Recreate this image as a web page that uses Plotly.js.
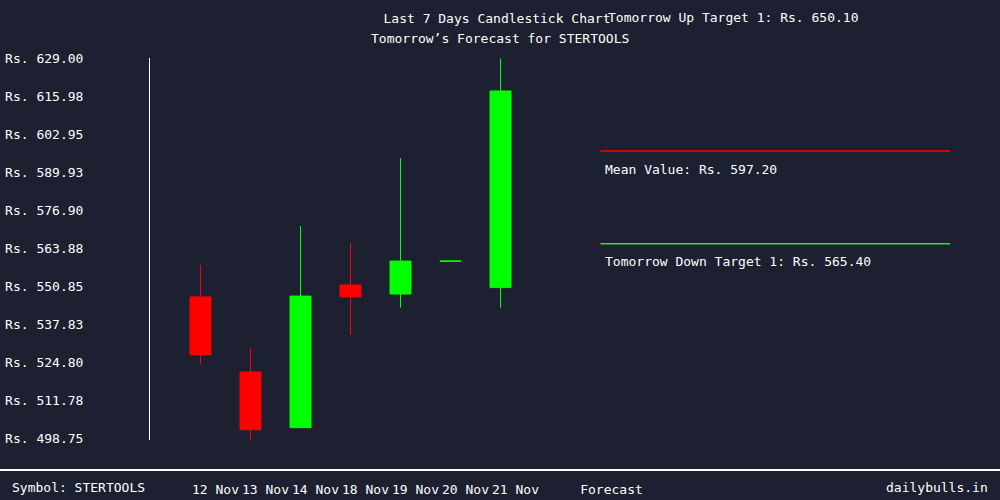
<!DOCTYPE html>
<html>
<head>
<meta charset="utf-8">
<script src="https://cdn.plot.ly/plotly-3.0.1.min.js"></script>
<style>html,body{margin:0;padding:0;background:#1c2030;}#chart{width:1000px;height:500px;}</style>
</head>
<body>
<div id="chart"></div>
<script>
// ---- data ----
const dates = ["12 Nov", "13 Nov", "14 Nov", "18 Nov", "19 Nov", "20 Nov", "21 Nov"];
const openVals  = [547.2, 521.5, 502.4, 551.3, 548.2, 559.4, 550.4];
const highVals  = [558.2, 529.7, 571.5, 565.7, 594.8, 559.5, 629.0];
const lowVals   = [524.3, 497.8, 502.4, 534.2, 543.5, 559.4, 543.5];
const closeVals = [527.4, 501.7, 547.5, 547.2, 559.5, 559.5, 617.8];
const yTickVals = [498.75, 511.775, 524.8, 537.825, 550.85, 563.875, 576.9, 589.925, 602.95, 615.975, 629.0];
const yTickLabels = ["Rs. 498.75", "Rs. 511.78", "Rs. 524.80", "Rs. 537.83", "Rs. 550.85", "Rs. 563.88", "Rs. 576.90", "Rs. 589.93", "Rs. 602.95", "Rs. 615.98", "Rs. 629.00"];
const upTarget = 650.10;
const meanValue = 597.20;
const downTarget = 565.40;
const symbol = "STERTOOLS";

// ---- chart ----
const FONT = "DejaVu Sans Mono, monospace";
const idx = dates.map((d, i) => i);
const forecastPos = 8.22;

const trace = {
  type: "candlestick",
  x: idx,
  open: openVals, high: highVals, low: lowVals, close: closeVals,
  increasing: {line: {color: "#00ff00", width: 1}, fillcolor: "#00ff00"},
  decreasing: {line: {color: "#ff0000", width: 1}, fillcolor: "#ff0000"},
  hoverinfo: "skip",
  showlegend: false
};

const layout = {
  width: 1000, height: 500,
  margin: {l: 150, r: 50, t: 58, b: 60},
  paper_bgcolor: "#1c2030",
  plot_bgcolor: "#1c2030",
  font: {family: FONT, size: 13, color: "#ffffff"},
  boxgap: 0.4,
  title: {
    text: "Last 7 Days Candlestick Chart",
    x: 0.497, xanchor: "center", xref: "container",
    y: 1 - 18 / 500, yanchor: "middle", yref: "container",
    font: {family: FONT, size: 13, color: "#ffffff"}
  },
  xaxis: {
    range: [-1.01, 14.99],
    showgrid: false, zeroline: false, showline: false,
    rangeslider: {visible: false},
    tickmode: "array",
    tickvals: idx.map(i => i + 0.3).concat([forecastPos]),
    ticktext: dates.concat(["Forecast"]),
    ticks: "",
    ticklabelstandoff: 40,
    tickfont: {family: FONT, size: 13, color: "#ffffff"},
    fixedrange: true
  },
  yaxis: {
    range: [498.17, 629.1],
    showgrid: false, zeroline: false,
    showline: true, linecolor: "#ffffff", linewidth: 1,
    tickmode: "array",
    tickvals: yTickVals,
    ticktext: yTickLabels,
    ticks: "",
    ticklabelstandoff: 63,
    tickfont: {family: FONT, size: 13, color: "#ffffff"},
    fixedrange: true
  },
  shapes: [
    {type: "line", xref: "x", yref: "y", x0: 8, x1: 15, y0: upTarget, y1: upTarget, line: {color: "#00ff00", width: 1.5}},
    {type: "line", xref: "x", yref: "y", x0: 8, x1: 15, y0: meanValue, y1: meanValue, line: {color: "#ff0000", width: 1.5}},
    {type: "line", xref: "x", yref: "y", x0: 8, x1: 15, y0: downTarget, y1: downTarget, line: {color: "#33dd33", width: 1.5}},
    {type: "line", xref: "paper", yref: "paper", x0: -0.1875, x1: 1.0625, y0: -30 / 382, y1: -30 / 382, line: {color: "#ffffff", width: 2}}
  ],
  annotations: [
    {text: "Tomorrow’s Forecast for " + symbol, xref: "paper", yref: "paper", x: 0.4375, y: (440 - 38) / 382, xanchor: "center", yanchor: "middle", showarrow: false},
    {text: "Tomorrow Up Target 1: Rs. " + upTarget.toFixed(2), xref: "x", yref: "paper", x: 8.1, y: (440 - 17) / 382, xanchor: "left", yanchor: "middle", showarrow: false},
    {text: "Mean Value: Rs. " + meanValue.toFixed(2), xref: "x", yref: "y", x: 8.04, y: meanValue, yshift: -18, xanchor: "left", yanchor: "middle", showarrow: false},
    {text: "Tomorrow Down Target 1: Rs. " + downTarget.toFixed(2), xref: "x", yref: "y", x: 8.04, y: downTarget, yshift: -18, xanchor: "left", yanchor: "middle", showarrow: false},
    {text: "Symbol: " + symbol, xref: "paper", yref: "paper", x: (10 - 150) / 800, y: (440 - 488) / 382, xanchor: "left", yanchor: "middle", showarrow: false},
    {text: "dailybulls.in", xref: "paper", yref: "paper", x: (990 - 150) / 800, y: (440 - 488) / 382, xanchor: "right", yanchor: "middle", showarrow: false}
  ]
};

Plotly.newPlot("chart", [trace], layout, {staticPlot: true, displayModeBar: false});
</script>
</body>
</html>
